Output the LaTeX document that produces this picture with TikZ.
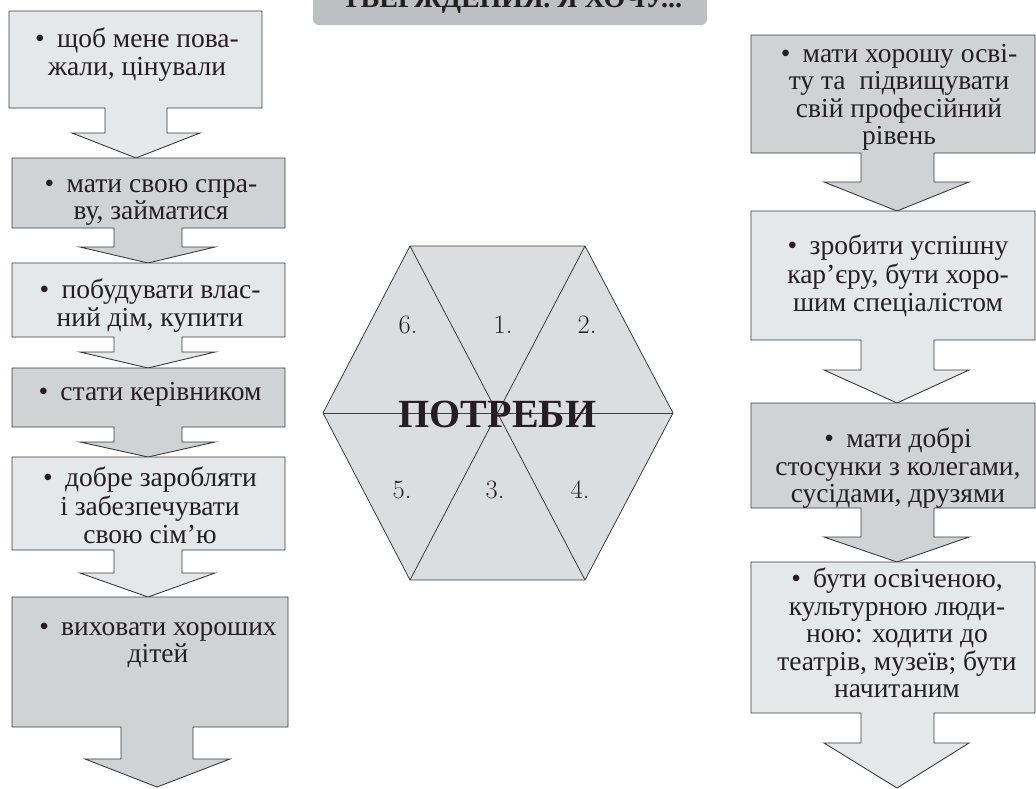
\documentclass[tikz,border=0pt]{standalone}
\usepackage{fontspec}
\newfontfamily\bodyfont{Liberation Serif}
\definecolor{boxlight}{HTML}{E6E7E8}
\definecolor{boxdark}{HTML}{D1D2D4}
\definecolor{hexfill}{HTML}{DCDDDF}
\definecolor{titlefill}{HTML}{BEBFC2}
\definecolor{edge}{HTML}{3C3C3C}
\definecolor{ink}{HTML}{231F20}
\newcommand\bul{•\hspace{0.45em}}
\begin{document}
\begin{tikzpicture}[x=1pt,y=-1pt,
  blockline/.style={draw=edge,line width=0.9pt,line join=miter},
  lightblock/.style={blockline,fill=boxlight},
  darkblock/.style={blockline,fill=boxdark},
  itemtext/.style={anchor=north,inner sep=0pt,align=center,text=ink,
    font=\bodyfont\fontsize{27.5}{27.5}\selectfont},
  hexnum/.style={anchor=base,inner sep=0pt,text=ink,font=\fontsize{26.5}{30}\selectfont},
  hexline/.style={draw=edge,line width=0.8pt}]
\clip (0,0) rectangle (1036,788);
\fill[white] (0,0) rectangle (1036,788);
% title
\fill[titlefill,rounded corners=6pt] (313,-20) rectangle (707,25);
\node[anchor=base,inner sep=0pt,text=ink,font=\bodyfont\bfseries\fontsize{28}{30}\selectfont] (title) at (512,7) {ТВЕРЖДЕНИЯ. Я ХОЧУ...};
% left column
\path[lightblock] (9,11) -- (262,11) -- (262,108) -- (167,108) -- (167,133) -- (200,133) -- (136,158) -- (72,133) -- (105,133) -- (105,108) -- (9,108) -- cycle;
\path[darkblock] (12,158) -- (285,158) -- (285,228) -- (182,228) -- (182,247) -- (215,247) -- (148,263) -- (80,247) -- (114,247) -- (114,228) -- (12,228) -- cycle;
\path[lightblock] (12,263) -- (285,263) -- (285,337) -- (182,337) -- (182,352) -- (215,352) -- (148,368) -- (80,352) -- (114,352) -- (114,337) -- (12,337) -- cycle;
\path[darkblock] (12,368) -- (285,368) -- (285,427) -- (182,427) -- (182,442) -- (215,442) -- (148,457) -- (80,442) -- (114,442) -- (114,427) -- (12,427) -- cycle;
\path[lightblock] (12,457) -- (285,457) -- (285,550) -- (182,550) -- (182,573) -- (215,573) -- (148,597) -- (80,573) -- (114,573) -- (114,550) -- (12,550) -- cycle;
\path[darkblock] (12,597) -- (288,597) -- (288,727) -- (193,727) -- (193,759) -- (230,759) -- (157,787) -- (85,759) -- (121,759) -- (121,727) -- (12,727) -- cycle;
\node[itemtext] (l1) at (137,27.75) {\strut\bul щоб мене пова-\\жали, цінували};
\node[itemtext] (l2) at (151,172.75) {\strut\bul мати свою спра-\\ву, займатися};
\node[itemtext] (l3) at (150,278.75) {\strut\bul побудувати влас-\\ний дім, купити};
\node[itemtext] (l4) at (150,380.75) {\strut\bul стати керівником};
\node[itemtext] (l5) at (150,466.75) {\strut\bul добре заробляти\\і забезпечувати\\свою сім’ю};
\node[itemtext] (l6) at (158,615.75) {\strut\bul виховати хороших\\дітей};
% right column
\path[darkblock] (751,35) -- (1035,35) -- (1035,153) -- (934,153) -- (934,182) -- (969,182) -- (897,211) -- (824,182) -- (861,182) -- (861,153) -- (751,153) -- cycle;
\path[lightblock] (751,211) -- (1035,211) -- (1035,340) -- (934,340) -- (934,370) -- (969,370) -- (897,403) -- (824,370) -- (861,370) -- (861,340) -- (751,340) -- cycle;
\path[darkblock] (751,403) -- (1035,403) -- (1035,508) -- (934,508) -- (934,537) -- (969,537) -- (897,562) -- (824,537) -- (861,537) -- (861,508) -- (751,508) -- cycle;
\path[lightblock] (751,562) -- (1035,562) -- (1035,713) -- (934,713) -- (934,743) -- (969,743) -- (897,788) -- (824,743) -- (861,743) -- (861,713) -- (751,713) -- cycle;
\node[itemtext] (r1) at (899,42.75) {\strut\bul мати хорошу осві-\\ту та\ \ підвищувати\\свій професійний\\рівень};
\node[itemtext] (r2) at (898,234.75) {\strut\bul зробити успішну\\кар’єру, бути хоро-\\шим спеціалістом};
\node[itemtext] (r3) at (898,427.75) {\strut\bul мати добрі\\стосунки з колегами,\\сусідами, друзями};
\node[itemtext] (r4) at (897,567.75) {\strut\bul бути освіченою,\\культурною люди-\\ною: ходити до\\театрів, музеїв; бути\\начитаним};
% hexagon
\path[hexline,fill=hexfill] (323,413) -- (410,246) -- (585,246) -- (673,413) -- (585,580) -- (410,580) -- cycle;
\coordinate (hl) at (323,413);
\coordinate (hr) at (673,413);
\coordinate (htl) at (410,246);
\coordinate (htr) at (585,246);
\coordinate (hbl) at (410,580);
\coordinate (hbr) at (585,580);
\draw[hexline] (hl) -- (hr);
\draw[hexline] (htl) -- (hbr);
\draw[hexline] (htr) -- (hbl);
\node[hexnum] (n6) at (408,333) {6.};
\node[hexnum] (n1) at (503,333) {1.};
\node[hexnum] (n2) at (587,333) {2.};
\node[hexnum] (n5) at (402,498) {5.};
\node[hexnum] (n3) at (495,498) {3.};
\node[hexnum] (n4) at (580,498) {4.};
\node[anchor=base,inner sep=0pt,text=ink,font=\bodyfont\bfseries\fontsize{40}{44}\selectfont] (potreby) at (497.5,427) {ПОТРЕБИ};
\end{tikzpicture}
\end{document}
